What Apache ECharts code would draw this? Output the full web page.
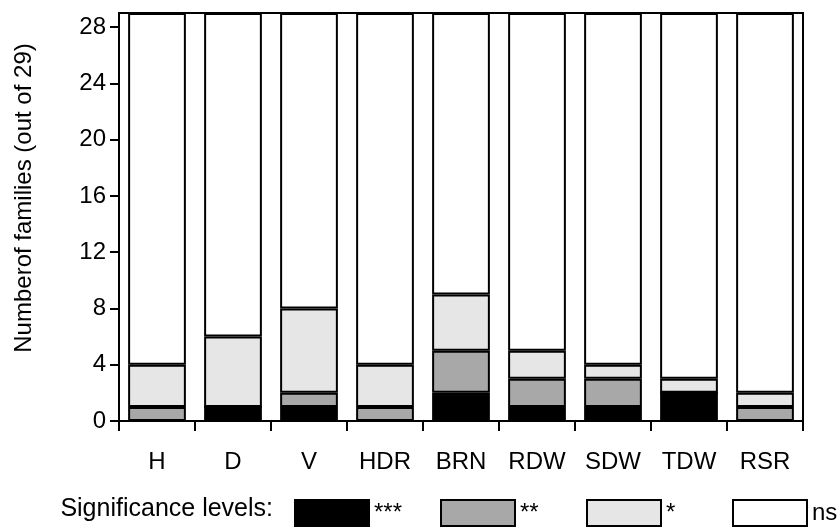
<!DOCTYPE html>
<html>
<head>
<meta charset="utf-8">
<script src="https://cdn.jsdelivr.net/npm/echarts@6/dist/echarts.min.js"></script>
<style>html,body{margin:0;padding:0;background:#fff}#c{width:839px;height:527px}</style>
</head>
<body>
<div id="c"></div>
<script>
const categories = ['H','D','V','HDR','BRN','RDW','SDW','TDW','RSR'];
const sig3 = [0,1,1,0,2,1,1,2,0];     // ***
const sig2 = [1,0,1,1,3,2,2,0,1];     // **
const sig1 = [3,5,6,3,4,2,1,1,1];     // *
const nsVals = [25,23,21,25,20,24,25,26,27]; // ns
const yTicks = [0,4,8,12,16,20,24,28];
const seriesNames = ['***','**','*','ns'];
const yTitle = 'Numberof families (out of 29)';
const legendTitle = 'Significance levels:';

const FONT = 'Liberation Sans, Arial, sans-serif';
const fills = ['#000000','#a8a8a8','#e6e6e6','#ffffff'];
const dataSets = [sig3, sig2, sig1, nsVals];

const legends = seriesNames.map((n,i)=>({
  left:289 + i*146, top:494, itemWidth:74, itemHeight:26,
  icon:'rect', data:[n],
  textStyle:{color:'#000',fontFamily:FONT,fontSize:24},
  selectedMode:false
}));

const chart = echarts.init(document.getElementById('c'), null, {renderer:'canvas'});
chart.setOption({
  animation:false,
  backgroundColor:'#fff',
  grid:{left:119,right:36,top:13,bottom:106,show:true,borderColor:'#000',borderWidth:2,backgroundColor:'transparent'},
  xAxis:{
    type:'category',data:categories,
    axisLine:{lineStyle:{color:'#000',width:2}},
    axisTick:{show:true,length:10,lineStyle:{color:'#000',width:2}},
    axisLabel:{color:'#000',fontFamily:FONT,fontSize:24,margin:29,interval:0}
  },
  yAxis:{
    type:'value',min:0,max:29,interval:4,
    splitLine:{show:false},
    axisLine:{show:true,lineStyle:{color:'#000',width:2}},
    axisTick:{show:true,length:9,lineStyle:{color:'#000',width:2},customValues:yTicks},
    axisLabel:{color:'#000',fontFamily:FONT,fontSize:24,margin:13,customValues:yTicks}
  },
  legend:legends,
  graphic:[
    {type:'text',x:24,y:198,rotation:Math.PI/2,style:{text:yTitle,fill:'#000',font:'24px '+FONT,textAlign:'center',textVerticalAlign:'middle'}},
    {type:'text',x:273,y:509,style:{text:legendTitle,fill:'#000',font:'25px '+FONT,textAlign:'right',textVerticalAlign:'middle'}}
  ],
  series:dataSets.map((d,i)=>({
    name:seriesNames[i],type:'bar',stack:'all',data:d,
    barCategoryGap:'24%',
    itemStyle:{color:fills[i],borderColor:'#000',borderWidth:2},
    emphasis:{disabled:true}
  }))
});
</script>
</body>
</html>
